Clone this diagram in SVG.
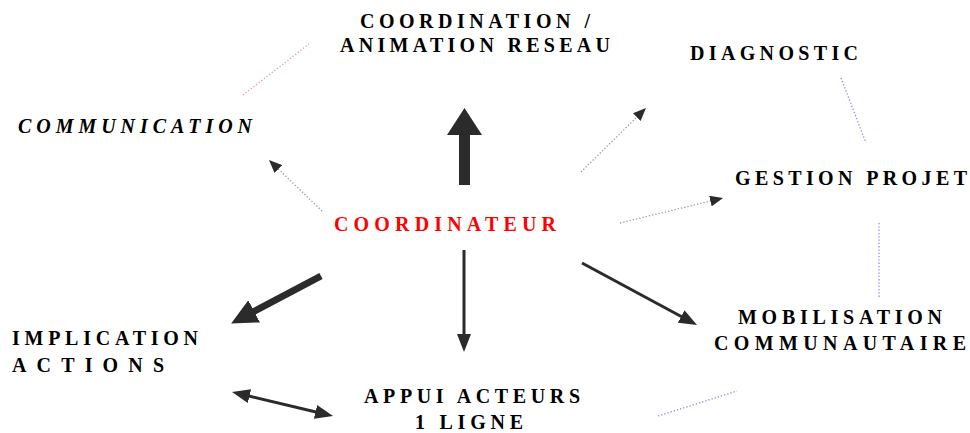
<svg xmlns="http://www.w3.org/2000/svg" width="970" height="433" viewBox="0 0 970 433">
<style>
text{font-family:"Liberation Serif","Times New Roman",serif;font-weight:bold;font-size:20px;fill:#000}
.red{fill:#ff0000}
.it{font-style:italic}
.solid{stroke:#2b2b2b;fill:none;stroke-width:3}
.thick{stroke:#2b2b2b;fill:none;stroke-width:7}
.dot{stroke:#9a9a9a;fill:none;stroke-width:1.3;stroke-dasharray:1.3 2}
.pink{stroke:#d9a0b0;fill:none;stroke-width:1.3;stroke-dasharray:1.3 2}
.blue{stroke:#8a8af0;fill:none;stroke-width:1.3;stroke-dasharray:1.3 2}
.head{fill:#2b2b2b}
</style>
<defs>
<marker id="ah" markerUnits="userSpaceOnUse" markerWidth="18" markerHeight="14" refX="8" refY="7" orient="auto-start-reverse"><path class="head" d="M0,0 L18,7 L0,14 z"/></marker>
<marker id="ahBig" markerUnits="userSpaceOnUse" markerWidth="26" markerHeight="25" refX="10" refY="12.5" orient="auto"><path class="head" d="M0,0 L26,12.5 L0,25 z"/></marker>
<marker id="ahSm" markerUnits="userSpaceOnUse" markerWidth="13" markerHeight="11" refX="7" refY="5.5" orient="auto"><path class="head" d="M0,0 L13,5.5 L0,11 z"/></marker>
</defs>
<g id="connectors">
<polygon class="head" points="459,185 470,185 470,135 482,135 464.5,108 447,135 459,135"/>
<line class="solid" x1="464" y1="250" x2="464" y2="342" marker-end="url(#ah)"/>
<line class="thick" x1="321" y1="276" x2="245.3" y2="316" marker-end="url(#ahBig)"/>
<line class="solid" x1="241.7" y1="394.3" x2="323.3" y2="413.7" marker-start="url(#ah)" marker-end="url(#ah)"/>
<line class="solid" x1="582" y1="263" x2="688.2" y2="320.3" marker-end="url(#ah)"/>
<line class="dot" x1="322" y1="211" x2="273.3" y2="164.2" marker-end="url(#ahSm)"/>
<line class="dot" x1="581" y1="172" x2="641.7" y2="112.2" marker-end="url(#ahSm)"/>
<line class="dot" x1="620" y1="223" x2="717.2" y2="199.4" marker-end="url(#ahSm)"/>
<line class="pink" x1="243" y1="95" x2="309" y2="44"/>
<line class="blue" x1="841" y1="78" x2="866" y2="143"/>
<line class="blue" x1="879" y1="223" x2="879" y2="297"/>
<line class="blue" x1="658" y1="416" x2="737" y2="391"/>
</g>
<g id="coordination"><text x="360" y="28" textLength="230" lengthAdjust="spacing">COORDINATION /</text><text x="340" y="52" textLength="270" lengthAdjust="spacing">ANIMATION RESEAU</text></g>
<g id="diagnostic"><text x="690" y="60" textLength="168" lengthAdjust="spacing">DIAGNOSTIC</text></g>
<g id="communication"><text class="it" x="18" y="133" textLength="234" lengthAdjust="spacing">COMMUNICATION</text></g>
<g id="gestion"><text x="735" y="185" textLength="232" lengthAdjust="spacing">GESTION PROJET</text></g>
<g id="coordinateur"><text class="red" x="334" y="231" textLength="222" lengthAdjust="spacing">COORDINATEUR</text></g>
<g id="implication"><text x="12" y="345" textLength="186" lengthAdjust="spacing">IMPLICATION</text><text x="12" y="372" textLength="152" lengthAdjust="spacing">ACTIONS</text></g>
<g id="mobilisation"><text x="738" y="324" textLength="204" lengthAdjust="spacing">MOBILISATION</text><text x="714" y="350" textLength="252" lengthAdjust="spacing">COMMUNAUTAIRE</text></g>
<g id="appui"><text x="364" y="403" textLength="216" lengthAdjust="spacing">APPUI ACTEURS</text><text x="415" y="429" textLength="108" lengthAdjust="spacing">1 LIGNE</text></g>
</svg>
